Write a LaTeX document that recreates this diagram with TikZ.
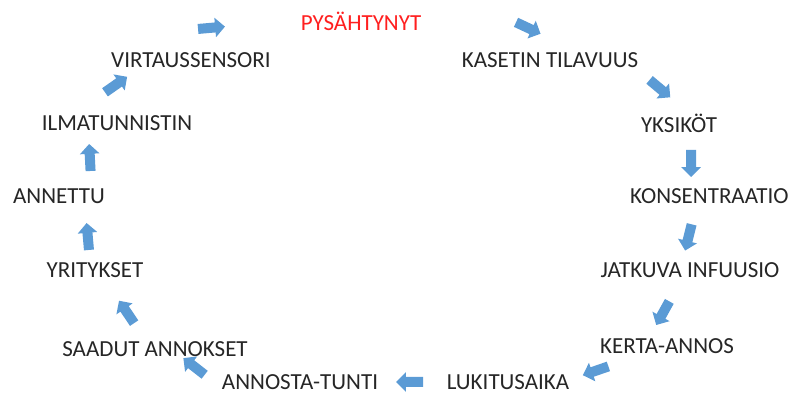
\documentclass[tikz,border=0pt]{standalone}
\usepackage{fontspec}
\setmainfont{Carlito}
\usepackage{xcolor}
\usetikzlibrary{shapes.arrows}
\definecolor{officeblue}{HTML}{5B9BD5}
\definecolor{stopred}{HTML}{FF1F1F}
\definecolor{txtgray}{HTML}{262626}
\tikzset{
	lbl/.style={text=txtgray, inner sep=0pt, font=\fontsize{23}{27}\selectfont},
	blk/.style={single arrow, fill=officeblue, draw=none, inner sep=4.8pt,
		single arrow head extend=4.8pt, minimum height=27pt, single arrow head indent=0pt}
}
\begin{document}
\begin{tikzpicture}[x=1pt, y=-1pt]
	\useasboundingbox (0,0) rectangle (793,395);
	
	\node[lbl, text=stopred] (stop) at (361,21) {PYSÄHTYNYT};
	\node[lbl] (virtaus) at (191,60) {VIRTAUSSENSORI};
	\node[lbl] (kasetti) at (550,60) {KASETIN TILAVUUS};
	\node[lbl] (yksikot) at (679,123) {YKSIKÖT};
	\node[lbl] (ilma) at (117,123) {ILMATUNNISTIN};
	\node[lbl, anchor=west] (konsentr) at (630,196) {KONSENTRAATIO};
	\node[lbl] (annettu) at (59,196) {ANNETTU};
	\node[lbl] (jatkuva) at (690,270) {JATKUVA INFUUSIO};
	\node[lbl] (yritys) at (95,270) {YRITYKSET};
	\node[lbl] (saadut) at (155,349) {SAADUT ANNOKSET};
	\node[lbl] (kerta) at (667,346) {KERTA-ANNOS};
	\node[lbl] (tunti) at (300,382) {ANNOSTA-TUNTI};
	\node[lbl] (lukitus) at (508,382) {LUKITUSAIKA};
	
	% block arrows round the ring: x/y/angle
	\foreach \x/\y/\a [count=\i] in {209/28/5, 526/27/-25, 658/87/-40, 691/161/-90,
		689/235/-104, 664/311/-119, 598/370/199, 412/382/180,
		196/368/142, 128/314/124, 88/239/95, 90/160/93, 114/86/35}	{
		\node[blk, rotate=\a] (pil\i) at (\x,\y) {};
	}
\end{tikzpicture}
\end{document}
